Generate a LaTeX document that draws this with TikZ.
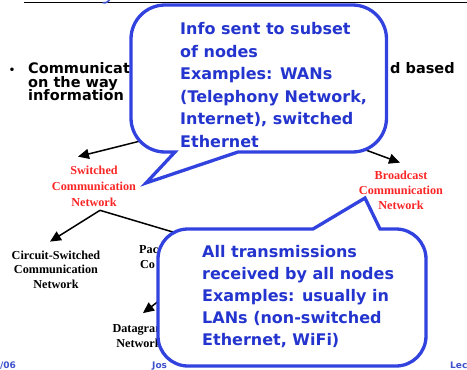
\documentclass[tikz,border=0pt]{standalone}
\usepackage{fontspec}
\setmainfont{Liberation Serif}
\newfontfamily\slidesans{DejaVu Sans}
\usetikzlibrary{arrows.meta}

\definecolor{calloutblue}{RGB}{50,66,222}
\definecolor{callouttext}{RGB}{36,52,206}
\definecolor{footblue}{RGB}{62,82,205}
\definecolor{treered}{RGB}{250,38,38}

% stacked lines whose baseline is that of the first line
\newcommand{\cstack}[1]{\vtop{\halign{\hfil##\hfil\cr#1\crcr}}}
\newcommand{\lstack}[1]{\vtop{\halign{##\hfil\cr#1\crcr}}}
\newcommand{\treefont}[1]{\fontsize{12.2}{#1}\selectfont\bfseries}

\begin{document}
\begin{tikzpicture}[x=1pt,y=-1pt,
  treeline/.style={line width=1.5pt,black},
  treearrow/.style={treeline,-{Triangle[length=11pt,width=10pt]}},
  rednode/.style={inner sep=0pt,text=treered},
  blacknode/.style={inner sep=0pt,text=black},
  bodytext/.style={inner sep=0pt,text=black,font=\slidesans\bfseries\fontsize{14.5}{14.5}\selectfont},
  bulletmark/.style={inner sep=0pt,text=black,font=\slidesans\bfseries\fontsize{10}{10}\selectfont},
  footer/.style={inner sep=0pt,text=footblue,font=\slidesans\bfseries\fontsize{9}{9}\selectfont},
  callout/.style={draw=calloutblue,fill=white,line width=3.3pt,line join=miter},
  callouttxt/.style={inner sep=0pt,text=callouttext,anchor=base west},
]
\useasboundingbox (0,0) rectangle (467,370);
\fill[white] (0,0) rectangle (467,370);

% slide header rule and the foot of the title above it
\draw[line width=1.7pt] (24,2.5) -- (467,2.5);
\draw[line width=1.6pt,footblue] (102.5,2.6) .. controls (106,3.4) and (108.5,2) .. (110,-1.5);

% bullet text
\node[bulletmark,anchor=base] (bullet) at (12,73) {•};
\node[bodytext,anchor=base west] (line1) at (28,73) {Communicati};
\node[bodytext,anchor=base west] (line1r) at (390,73) {d based};
\node[bodytext,anchor=base west] (line2) at (28,87) {on the way};
\node[bodytext,anchor=base west] (line3) at (28,100) {information};

% taxonomy tree
\coordinate (root) at (260,111);
\node[rednode,anchor=base,font=\treefont{16}] (switched) at (94,174)
  {\cstack{Switched\cr Communication\cr Network}};
\node[rednode,anchor=base,font=\treefont{15}] (broadcast) at (401,179)
  {\cstack{Broadcast\cr Communication\cr Network}};
\node[blacknode,anchor=base,font=\treefont{14.5}] (circuit) at (56,259)
  {\cstack{Circuit-Switched\cr Communication\cr Network}};
\node[blacknode,anchor=base west,font=\treefont{15}] (packet) at (139,253)
  {\lstack{Pac\cr \kern0.8pt Co}};
\node[blacknode,anchor=base,font=\treefont{15}] (datagram) at (139,332)
  {\cstack{Datagram\cr Network}};

\draw[treearrow] (root) -- ([shift={(-16,-8.7)}]switched.north);
\draw[treearrow] (root) -- ([shift={(-1,-7.7)}]broadcast.north);
\draw[treearrow] ([shift={(6,4)}]switched.south) -- ([shift={(-6,-8.7)}]circuit.north);
\draw[treearrow] ([shift={(6,4)}]switched.south) -- ([shift={(56,-14.4)}]packet.base west);
\draw[treearrow] ([shift={(43,30)}]packet.base west) -- ([shift={(4,-10.7)}]datagram.north);

% footer
\node[footer,anchor=base west] (footdate) at (0,368) {/06};
\node[footer,anchor=base west] (footauthor) at (152,368) {Jos};
\node[footer,anchor=base west] (footlecture) at (450,368) {Lec};

% callout for switched networks
\draw[callout] (238,152) -- (352.5,152)
  .. controls (371.3,152) and (386.5,136.8) .. (386.5,118) -- (386.5,39)
  .. controls (386.5,20.2) and (371.3,5) .. (352.5,5) -- (165,5)
  .. controls (146.2,5) and (131,20.2) .. (131,39) -- (131,118)
  .. controls (131,136.8) and (146.2,152) .. (165,152) -- (175,152)
  -- (146,183) -- cycle;
\node[callouttxt,font=\slidesans\bfseries\fontsize{16}{22.6}\selectfont] (switchmsg) at (180,34.5)
  {\lstack{Info sent to subset\cr of nodes\cr Examples: WANs\cr (Telephony Network,\cr Internet), switched\cr Ethernet}};

% callout for broadcast networks
\draw[callout] (380,229) -- (396,229)
  .. controls (412.6,229) and (426,242.4) .. (426,259) -- (426,336)
  .. controls (426,352.6) and (412.6,366) .. (396,366) -- (188,366)
  .. controls (171.4,366) and (158,352.6) .. (158,336) -- (158,259)
  .. controls (158,242.4) and (171.4,229) .. (188,229) -- (313,229)
  -- (365,198) -- cycle;
\node[callouttxt,font=\slidesans\bfseries\fontsize{16}{22}\selectfont] (bcastmsg) at (202,257)
  {\lstack{All transmissions\cr received by all nodes\cr Examples: usually in\cr LANs (non-switched\cr Ethernet, WiFi)}};
\end{tikzpicture}
\end{document}
